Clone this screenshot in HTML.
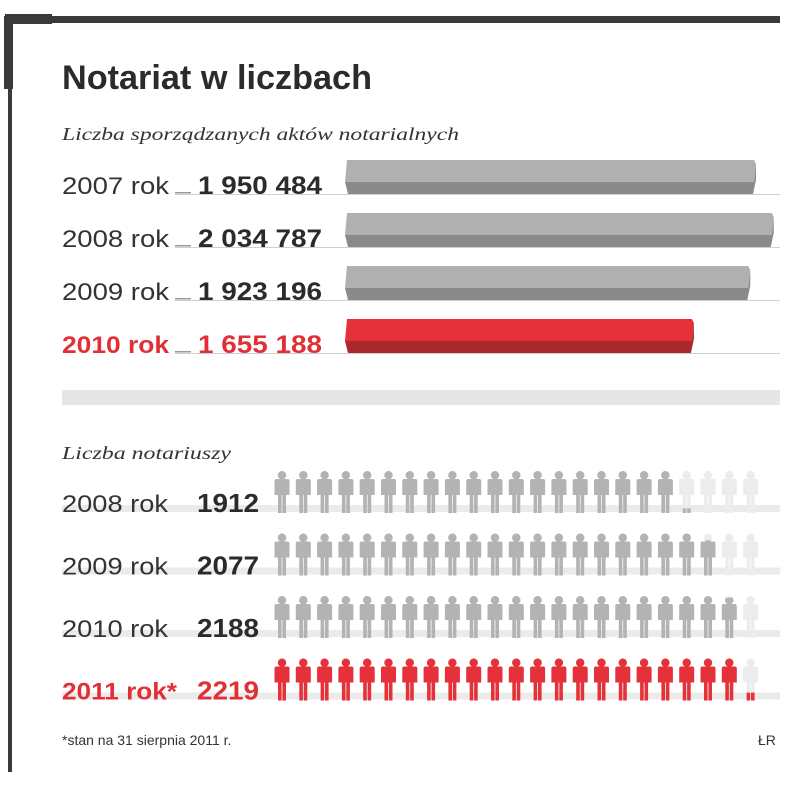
<!DOCTYPE html>
<html><head><meta charset="utf-8">
<style>
html,body{margin:0;padding:0;background:#fff;}
body{width:805px;height:780px;overflow:hidden;position:relative;font-family:"Liberation Sans",sans-serif;}
svg text{font-family:"Liberation Sans",sans-serif;}
</style></head>
<body>
<svg id="chart" width="805" height="780" viewBox="0 0 805 780" xmlns="http://www.w3.org/2000/svg">
  <rect x="8" y="16" width="772" height="7" fill="#3a3a3a"/>
  <rect x="5" y="14" width="47" height="10" fill="#3a3a3a"/>
  <rect x="4" y="16" width="9" height="73" fill="#3a3a3a"/>
  <rect x="8" y="16" width="4" height="756" fill="#3a3a3a"/>
  <text x="62" y="89" font-size="34" font-weight="bold" fill="#2b2b2b" textLength="310" lengthAdjust="spacingAndGlyphs">Notariat w liczbach</text>
  <text x="62" y="140" font-size="18" font-style="italic" fill="#333" style="font-family:'Liberation Serif',serif" textLength="397" lengthAdjust="spacingAndGlyphs">Liczba sporządzanych aktów notarialnych</text>
  <g id="acts"></g>
  <rect x="62" y="390" width="718" height="15" fill="#e6e6e6"/>
  <text x="62" y="459" font-size="18" font-style="italic" fill="#333" style="font-family:'Liberation Serif',serif" textLength="169" lengthAdjust="spacingAndGlyphs">Liczba notariuszy</text>
  <g id="notaries"></g>
  <text x="62" y="745" font-size="14" fill="#333">*stan na 31 sierpnia 2011 r.</text>
  <text x="758" y="745" font-size="14" fill="#333">ŁR</text>
</svg>
<script>
const actYears = ["2007 rok","2008 rok","2009 rok","2010 rok"];
const actValues = [1950484, 2034787, 1923196, 1655188];
const actLabels = ["1 950 484","2 034 787","1 923 196","1 655 188"];
const notYears = ["2008 rok","2009 rok","2010 rok","2011 rok*"];
const notValues = [1912, 2077, 2188, 2219];

const NS = "http://www.w3.org/2000/svg";
function mk(tag, attrs, parent){
  const e = document.createElementNS(NS, tag);
  for (const k in attrs) e.setAttribute(k, attrs[k]);
  parent.appendChild(e);
  return e;
}
const x0 = 345, xScale = v => x0 + v * (410 / 1950484);
const actsG = document.getElementById("acts");
actValues.forEach((v, i) => {
  const hl = i === actValues.length - 1;
  const base = 194 + i * 53;
  const top = base - 34;
  const xe = xScale(v);
  const g = mk("g", {}, actsG);
  
  
  const ln = mk("rect", {x: 175, y: base, width: 605, height: 1, fill: "#cfcfcf"}, g);
  
  
  const dash = mk("rect", {x: 175, y: base - 2, width: 16, height: 1.5, fill: "#999"}, g);
  
  
  const yl = mk("text", {x: 62, y: base, "font-size": 24, fill: hl ? "#e03036" : "#333", "font-weight": hl ? "bold" : "normal", textLength: 107, lengthAdjust: "spacingAndGlyphs"}, g);
  yl.textContent = actYears[i];
  
  
  const vl = mk("text", {x: 198, y: base, "font-size": 25, "font-weight": "bold", fill: hl ? "#e03036" : "#2b2b2b", textLength: 124, lengthAdjust: "spacingAndGlyphs"}, g);
  vl.textContent = actLabels[i];
  
  
  const cTop = hl ? "#e5323a" : "#b0b0b0";
  const cBot = hl ? "#a82a2e" : "#8a8a8a";
  const topF = mk("path", {d: `M${x0+2},${top} L${xe-1},${top} L${xe+1},${top+4} L${xe-1},${top+22} L${x0},${top+22} L${x0+1},${top+11} Z`, fill: cTop}, g);
  
  
  const botF = mk("path", {d: `M${x0},${top+22} L${xe-1},${top+22} L${xe+1},${top+4} L${xe+1},${top+20} L${xe-2},${base} L${x0+3},${base} Z`, fill: cBot}, g);
  
  
});

const icX0 = 274, icStep = 21.3, perIcon = 100, icCount = 23;
const notG = document.getElementById("notaries");
const defs = mk("defs", {}, notG);
function personPath(x, y){
  return `M${x+8},${y} a4.2,4.2 0 1 1 -0.01,0 Z M${x+2.5},${y+8} h11 a2,2 0 0 1 2,2 v14 h-3.5 v18 h-3.6 v-18 h-0.8 v18 h-3.6 v-18 h-3.5 v-14 a2,2 0 0 1 2,-2 Z`;
}
notValues.forEach((v, i) => {
  const hl = i === notValues.length - 1;
  const base = 512 + i * 62.5;
  const top = base - 41;
  const g = mk("g", {}, notG);
  
  
  const band = mk("rect", {x: 62, y: base - 7, width: 718, height: 7, fill: "#ebebeb"}, g);
  
  
  const yl = mk("text", {x: 62, y: base, "font-size": 24, fill: hl ? "#e03036" : "#333", "font-weight": hl ? "bold" : "normal", textLength: hl ? 115 : 106, lengthAdjust: "spacingAndGlyphs"}, g);
  yl.textContent = notYears[i];
  
  
  const vl = mk("text", {x: 197, y: base, "font-size": 26, "font-weight": "bold", fill: hl ? "#e03036" : "#2b2b2b", textLength: 62, lengthAdjust: "spacingAndGlyphs"}, g);
  vl.textContent = String(v);
  
  
  const full = hl ? "#e5323a" : "#b3b3b3";
  for (let k = 0; k < icCount; k++) {
    const x = icX0 + k * icStep;
    const frac = Math.max(0, Math.min(1, v / perIcon - k));
    const bg = mk("path", {d: personPath(x, top), fill: "#ececec"}, g);
    
    
    if (frac > 0) {
      const cid = "c" + i + "_" + k;
      const cp = mk("clipPath", {id: cid}, defs);
      const h = 47 * frac;
      mk("rect", {x: x - 1, y: top + 43 - h, width: 19, height: h}, cp);
      const fp = mk("path", {d: personPath(x, top), fill: full, "clip-path": `url(#${cid})`}, g);
      
      
    }
  }
});
</script>
</body></html>
